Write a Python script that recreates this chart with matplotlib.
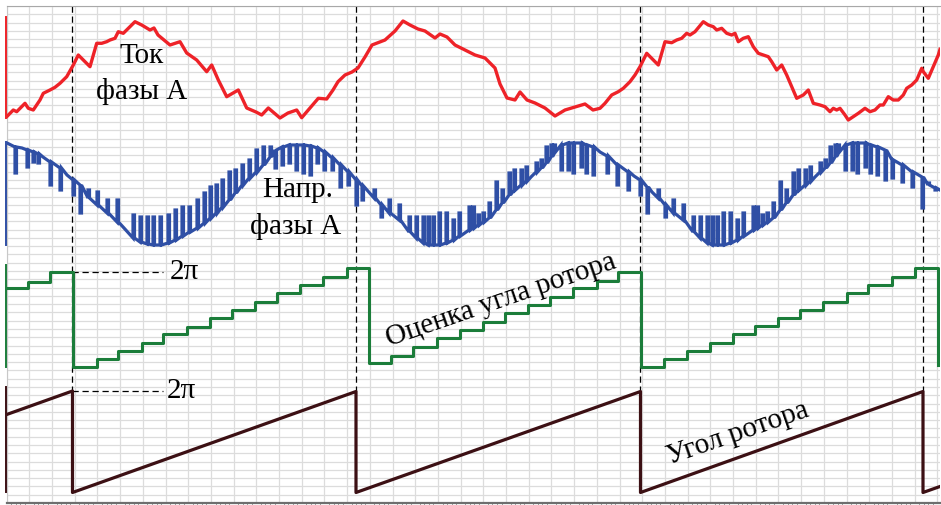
import numpy as np
import matplotlib
matplotlib.use("Agg")
import matplotlib.pyplot as plt

plt.rcParams['font.family'] = ['Liberation Serif', 'DejaVu Serif']

# screen units: t along the sweep, level counted from the top of the screen
T0, T1 = 6.7, 940.0
L_TOP, L_BOT = 6.0, 503.0

# phase A current (red)
cur_t = [6.7, 13.3, 16.7, 20, 25, 28.3, 33.3, 40, 43.3, 50, 55, 60, 66.7, 73.3, 78.3,
         83.3, 90, 96.7, 101.7, 106.7, 110, 115, 118.3, 123.3, 128.3, 135, 141.7, 150,
         154, 158, 170, 180, 186.7, 196.7, 206.7, 211.7, 218.3, 226.7, 238.3, 246.7,
         256, 261.7, 268.3, 280, 288, 296.7, 301.7, 310, 318.3, 326.7, 333, 338,
         345, 352, 358, 365, 372, 385, 395, 403, 410, 418, 425, 435, 440, 447, 455,
         465, 475, 485, 495, 500, 507, 515, 520, 527, 535, 545, 555, 565, 575, 585,
         593, 600, 605, 611.7, 618.3, 623.3, 630, 635, 640, 646.7, 653.3, 658.3,
         665, 671.7, 676.7, 681.7, 686.7, 690, 695, 703.3, 708.3, 713.3, 716.7,
         721.7, 726.7, 731.7, 735, 738.3, 743.3, 748.3, 753.3, 758.3, 763.3, 768.3,
         771.7, 776.7, 781.7, 786.7, 791.7, 796.7, 803.3, 808.3, 813.3, 820, 825,
         830, 833.3, 836.7, 840, 845, 848.3, 853.3, 858.3, 865, 870, 875, 880,
         883.3, 888.3, 893.3, 898.3, 903.3, 906.7, 911.7, 916.7, 921.7, 923.3,
         928.3, 933.3, 938.3, 940]
cur_v = [116.7, 110, 111.7, 108.3, 103.3, 108.3, 110, 100, 93.3, 90, 87.3, 83.3, 76.7,
         65, 55, 60, 66.7, 43.3, 43.3, 41.7, 40, 38.3, 31.7, 33.3, 28.3, 21.7, 25,
         30, 28, 35, 45, 41.7, 53, 60, 71.7, 65, 80, 96.7, 90, 108, 112, 115, 108,
         118, 113, 110, 117.7, 108, 98.3, 99, 90, 81.7,
         75, 72, 68, 57, 45, 40, 31, 21, 25, 29, 31, 38, 34, 37, 45,
         50, 55, 58, 68, 84, 98, 100, 92, 100, 103, 108, 116, 110, 107, 104,
         110, 108.3, 103.3, 95, 91.7, 88.3, 81.7, 75, 66.7, 53.3, 60, 65,
         41.7, 42.7, 40, 38.3, 33.3, 35, 31.7, 21.7, 25, 26.7, 30,
         28.3, 33.3, 35, 33.3, 41.7, 38.3, 36.7, 46.7, 53.3, 55, 56.7,
         61.7, 70, 65, 75, 86.7, 98.3, 95, 90, 103.3, 105, 106.7,
         111.7, 108.3, 110, 108.3, 115, 120, 116.7, 113.3, 108.3, 111.7, 110, 105,
         105, 96.7, 100, 100, 95, 88.3, 85, 80, 68.3, 71.7,
         78.3, 66.7, 55, 49.3]

# phase A voltage (blue): sweep time, level before the pulse, pulse level
volt_t = [7, 15, 22, 27, 33, 38, 43, 50, 60, 67, 73, 80, 88, 97, 107, 117, 124,
          133, 140, 147, 153, 160, 168, 175, 182, 189, 197, 204, 210, 216, 222, 229,
          235, 242, 249, 256, 263, 270, 275, 282, 289, 296, 303, 310, 317, 324, 332,
          340, 348, 356, 362,
          374, 381, 389, 399, 409, 416, 423, 428, 433, 439, 446, 453, 459, 469, 473,
          478, 483, 489, 496, 502, 509, 514, 521, 526, 531, 536, 541, 546, 551, 554,
          561, 568, 573, 581, 586, 593,
          600, 607, 617, 628, 634, 640, 647, 652, 658, 665, 673, 683, 693, 700, 707,
          712, 717, 723, 730, 737, 743, 753, 757, 762, 767, 773, 780, 786, 793, 798,
          805, 810, 815, 820, 825, 830, 835, 838, 845, 852, 857, 865, 870, 877, 885,
          892, 902, 912, 922, 928, 935, 940]
volt_base = [143, 147, 148, 150, 152, 154, 157, 162, 168, 175, 180, 185, 198, 205, 213,
             222, 228, 238, 242, 244, 245, 245, 243, 240, 236, 232, 228, 223, 218, 213,
             207, 200, 193, 185, 178, 172, 165, 157, 150, 147, 145, 145, 145, 146, 148,
             152, 158, 165, 172, 180, 186,
             198, 205, 213, 220, 232, 238, 243, 245, 245, 245, 243, 240, 236, 230, 228,
             225, 222, 218, 210, 203, 195, 190, 185, 181, 177, 172, 168, 163, 157, 152,
             145, 143, 143, 143, 145, 147,
             152, 156, 165, 172, 176, 180, 187, 192, 198, 205, 213, 220, 232, 238, 243,
             245, 245, 245, 243, 240, 236, 230, 228, 225, 222, 218, 210, 203, 195, 190,
             185, 181, 177, 172, 168, 163, 157, 152, 145, 143, 143, 143, 145, 147, 150,
             160, 165, 172, 177, 185, 188, 190]
volt_tip = [143, 173, 148, 167, 162, 163, 157, 185, 190, 175, 195, 213, 190, 192, 200,
            200, 228, 215, 217, 217, 217, 217, 215, 210, 207, 207, 200, 193, 187, 185,
            180, 172, 170, 165, 160, 150, 147, 147, 168, 165, 163, 170, 173, 175, 163,
            170, 170, 187, 185, 205, 200,
            190, 217, 200, 205, 217, 217, 217, 217, 217, 213, 213, 220, 213, 207, 207,
            215, 213, 203, 182, 190, 173, 170, 170, 167, 177, 163, 160, 147, 145, 145,
            170, 170, 173, 167, 173, 175,
            152, 173, 185, 190, 176, 195, 213, 192, 190, 217, 200, 205, 217, 217, 217,
            217, 217, 213, 213, 220, 213, 207, 207, 215, 213, 203, 182, 190, 173, 170,
            170, 167, 177, 163, 160, 147, 145, 145, 170, 170, 173, 167, 173, 175, 180,
            178, 182, 187, 208, 183, 190, 190]

# estimated rotor angle (green staircase): step times and levels
est_t = [6.7, 28, 50, 73, 97, 118.3, 141.7, 163.3, 186.7, 210, 231.7, 255, 276.7, 300,
         323, 346.7, 369, 390.7, 413.3, 436.7, 460, 483.3, 505, 528.3, 550, 573.3,
         596.7, 618.3, 640.7, 664, 686.7, 710, 733.3, 755, 778.3, 800, 823.3, 846.7,
         868.3, 891.7, 915, 938.3]
est_v = [288.3, 281.7, 271.7, 367.3, 359.3, 350.7, 342.7, 334.3, 326.7, 318.3, 310,
         301.7, 293.3, 285, 276.7, 268.3, 363.3, 355.7, 347.3, 338.3, 330, 321.7,
         313.3, 305, 296.7, 288.3, 280.7, 271.7, 367.3, 359.3, 351, 342.7, 334.3, 326,
         318.3, 310, 301.7, 293.3, 285, 276.7, 268.3, 365]

# rotor angle (sawtooth)
ang_t = [6.7, 72.5, 72.5, 356, 356, 640.5, 640.5, 923, 923, 940]
ang_v = [414.5, 391, 492.5, 391.5, 492.5, 391.5, 492.5, 391.5, 492.5, 486.5]

# channel range markers on the left edge
chan_top = [17, 142, 265, 387]
chan_bot = [118, 245, 367, 492]
chan_col = ['#ee2228', '#2f4fa5', '#1b7d3a', '#3c1014']

# period marks (rotor angle wraps) and 2pi level marks
wrap_t = [72.5, 356, 640.5, 923]
two_pi_v = [272, 391.5]

fig = plt.figure(figsize=(9.41, 5.05), dpi=100)
ax = fig.add_axes([T0 / 941, (505 - L_BOT) / 505, (T1 - T0) / 941, (L_BOT - L_TOP) / 505])
ax.set_xlim(T0, T1)
ax.set_ylim(L_BOT, L_TOP)

ax.set_xticks(np.arange(T0, T1, 22.7))
ax.set_yticks(np.linspace(L_TOP, L_BOT, 61))
ax.set_xticks(np.arange(T0, T1, 22.7 / 5), minor=True)
ax.grid(True, color='#dcdcdc', lw=0.9)
ax.tick_params(which='major', length=0, labelbottom=False, labelleft=False)
ax.tick_params(which='minor', axis='x', length=2, color='#909090', width=0.6)
ax.tick_params(which='minor', axis='y', length=0)
ax.spines['right'].set_visible(False)
ax.spines['top'].set_color('#a8a8a8')
ax.spines['left'].set_color('#c8c8c8')
ax.spines['bottom'].set_color('#6e6e6e')
ax.spines['bottom'].set_linewidth(1.6)

for top, bot, col in zip(chan_top, chan_bot, chan_col):
    ax.plot([T0 - 0.8, T0 - 0.8], [top, bot], color=col, lw=1.4, clip_on=False, zorder=4)

# dashed guides
for t in wrap_t:
    ax.plot([t, t], [L_TOP, two_pi_v[1]], color='black', lw=0.9, ls=(0, (5, 3)), zorder=2)
for v in two_pi_v:
    ax.plot([wrap_t[0], 163], [v, v], color='black', lw=0.9, ls=(0, (5, 3)), zorder=2)

# traces
ax.plot(cur_t, cur_v, color='#ee2228', lw=2.4, solid_joinstyle='round', zorder=3)

vx, vy = [], []
for t, b, p in zip(volt_t, volt_base, volt_tip):
    if p == b:
        vx.append(t)
        vy.append(b)
    else:
        vx += [t, t, t + 1.5, t + 1.5]
        vy += [b, p, p, b]
ax.plot(vx, vy, color='#2f4fa5', lw=2.3, solid_joinstyle='miter', zorder=3)

ax.step(est_t, est_v, where='post', color='#1b7d3a', lw=2.2, zorder=3)
ax.plot(ang_t, ang_v, color='#3c1014', lw=2.3, zorder=3)

fs = 21
ax.text(142, 56, 'Ток', fontsize=fs, ha='center', va='center')
ax.text(142, 92, 'фазы А', fontsize=fs, ha='center', va='center')
ax.text(298, 190, 'Напр.', fontsize=fs, ha='center', va='center')
ax.text(296, 227, 'фазы А', fontsize=fs, ha='center', va='center')
ax.text(184, 272, '2π', fontsize=fs, ha='center', va='center')
ax.text(181, 391, '2π', fontsize=fs, ha='center', va='center')
ax.text(501, 300, 'Оценка угла ротора', fontsize=fs, ha='center', va='center',
        rotation=19, rotation_mode='anchor')
ax.text(738, 434, 'Угол ротора', fontsize=fs, ha='center', va='center',
        rotation=19, rotation_mode='anchor')

fig.savefig('out.png', dpi=100)
